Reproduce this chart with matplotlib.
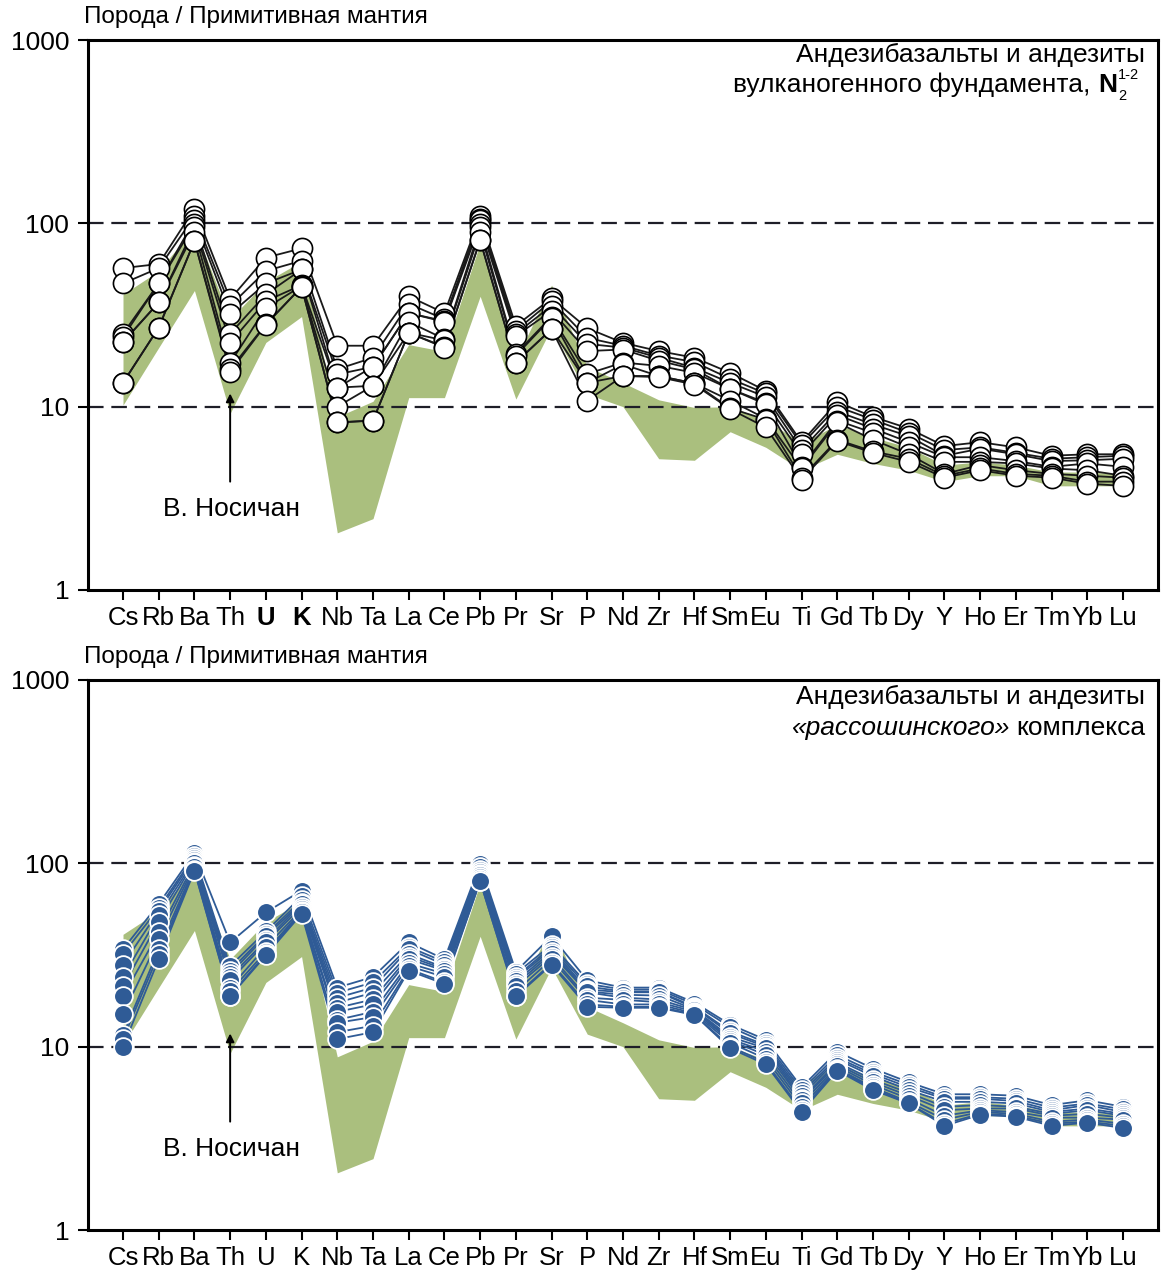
import numpy as np
import matplotlib.pyplot as plt
from matplotlib.ticker import NullLocator

plt.rcParams['font.family'] = ['Liberation Sans', 'DejaVu Sans']

# Element order of the spider diagram (normalised to primitive mantle)
elements = ['Cs', 'Rb', 'Ba', 'Th', 'U', 'K', 'Nb', 'Ta', 'La', 'Ce', 'Pb', 'Pr',
            'Sr', 'P', 'Nd', 'Zr', 'Hf', 'Sm', 'Eu', 'Ti', 'Gd', 'Tb', 'Dy', 'Y',
            'Ho', 'Er', 'Tm', 'Yb', 'Lu']

# Field of the Upper Nosichan volcanics (shaded band)
band_upper = [41, 55, 95, 30, 48, 62, 8.8, 10.7, 21.8, 20, 78, 18, 46, 16.5, 13.5,
              10.9, 9.9, 10, 8.5, 6.3, 8.0, 6.8, 6.0, 4.8, 5.0, 4.8, 4.4, 4.4, 4.3]
band_lower = [10.2, 21, 43, 9.2, 22.4, 31, 2.05, 2.45, 11.2, 11.2, 40, 11, 27, 11.7, 10,
              5.2, 5.1, 7.3, 6.0, 4.5, 5.5, 4.9, 4.5, 3.9, 4.2, 4.2, 3.7, 3.7, 3.7]

# Basaltic andesites and andesites of the volcanic basement, N2(1-2)
basement_1 = [57, 60, 120, 38.6, 65, 73, 21.5, 21.5, 40, 32.4, 109, 27.6, 39, 26.8, 22.3,
              20.1, 18.5, 15.3, 12.2, 6.4, 10.6, 8.8, 7.6, 6.1, 6.4, 6.0, 5.4, 5.5, 5.5]
basement_2 = [47, 57, 109, 35.5, 55, 62.5, 16, 18.5, 36.4, 30, 106, 26, 37.7, 23.7, 21.5,
              19, 17.5, 14.2, 11.8, 6.2, 10, 8.5, 7.2, 5.8, 6.0, 5.6, 5.2, 5.3, 5.4]
basement_3 = [25, 47, 104, 32, 47, 56, 15, 16.5, 32.4, 29.3, 104, 25, 35.5, 22, 21,
              18.5, 16.3, 13.5, 11.3, 5.8, 9.4, 8.0, 6.9, 5.4, 5.9, 5.5, 5.05, 5.1, 5.2]
basement_4 = [24, 47, 99, 25, 41, 56, 12.7, 16.5, 32.4, 29, 99, 24.3, 33.3, 20.1, 20.5,
              17.8, 16, 12.5, 10.5, 5.5, 9.0, 7.6, 6.4, 5.3, 5.3, 5.05, 4.7, 4.9, 4.7]
basement_5 = [22.5, 37, 95, 22.3, 37.7, 46, 12.7, 13, 29, 23.4, 95, 19.4, 31, 15.1, 17.4,
              16.7, 15.3, 12.5, 10.3, 4.7, 8.4, 7.2, 6.0, 5.0, 5.0, 4.9, 4.6, 4.5, 4.2]
basement_6 = [22.5, 37, 90, 17.3, 34.5, 45.5, 10, 13, 25.3, 23, 90, 19, 30.5, 13.5, 17,
              14.7, 13.4, 10.8, 8.6, 4.6, 8.2, 6.6, 5.5, 4.3, 4.8, 4.5, 4.3, 4.2, 4.1]
basement_7 = [13.5, 27, 80, 16, 28.2, 45, 8.2, 8.4, 25.3, 21.2, 81, 17.4, 26.5, 13.5, 14.7,
              14.7, 13.4, 9.8, 8.5, 4.1, 6.6, 5.7, 5.2, 4.2, 4.6, 4.3, 4.2, 3.9, 3.9]
basement_8 = [13.5, 27, 80, 15.5, 28, 45, 8.2, 8.4, 25.3, 21, 81, 17.4, 26.5, 10.8, 14.7,
              14.5, 13.2, 9.7, 7.7, 4.0, 6.5, 5.6, 5.0, 4.1, 4.5, 4.2, 4.1, 3.8, 3.7]

# Basaltic andesites and andesites of the "Rassoshinsky" complex
rass_1 = [34, 60, 114, 37, 54, 71, 21, 24, 37, 30, 99, 25.7, 40, 23, 21,
          21, 17.4, 13.2, 10.9, 6.0, 9.4, 7.6, 6.4, 5.5, 5.5, 5.4, 4.8, 5.1, 4.7]
rass_2 = [32, 57, 110, 27.5, 42.5, 66, 19.7, 22.4, 35, 29, 95, 25, 36, 22, 20.5,
          20.5, 17, 12.8, 10.5, 5.8, 9.0, 7.3, 6.2, 5.3, 5.3, 5.2, 4.65, 4.9, 4.55]
rass_3 = [28, 55, 107, 26, 41, 63, 18.5, 21, 34, 28, 92, 24, 35, 21.3, 20,
          20, 16.5, 12.1, 10.2, 5.6, 8.7, 7.1, 6.0, 5.2, 5.2, 5.05, 4.5, 4.8, 4.4]
rass_4 = [24, 52, 104, 25, 40, 61, 17.4, 19.7, 32, 27, 90, 23.5, 34, 20.5, 19.8,
          19.8, 16.3, 11.8, 10, 5.4, 8.5, 6.9, 5.8, 5.0, 5.0, 4.9, 4.4, 4.6, 4.3]
rass_5 = [21.3, 48, 102, 24, 38, 60, 16.3, 18.1, 31, 26.5, 88, 22.7, 33, 20, 19.2,
          19, 16, 11.3, 9.8, 5.2, 8.2, 6.6, 5.6, 4.7, 4.8, 4.7, 4.3, 4.5, 4.2]
rass_6 = [18.8, 42, 100, 23, 37, 58, 15.5, 17, 30, 26, 86, 22, 32, 19.8, 18.5,
          18.1, 15.8, 11, 9.4, 5.1, 8.0, 6.4, 5.4, 4.5, 4.6, 4.6, 4.2, 4.3, 4.1]
rass_7 = [15, 38.5, 97, 21, 35, 56, 14, 15.5, 28.5, 25, 84, 21.3, 31, 18.5, 18,
          17.5, 15.5, 10.8, 9, 4.9, 7.8, 6.2, 5.2, 4.2, 4.5, 4.4, 4.1, 4.1, 4.0]
rass_8 = [11.6, 34, 95, 20, 33, 55, 13.5, 14.5, 27.5, 24, 82, 20, 30, 18, 17,
          17, 15.2, 10.5, 8.6, 4.7, 7.6, 6.0, 5.0, 4.0, 4.4, 4.3, 3.9, 4.0, 3.8]
rass_9 = [11, 32, 92, 19, 32, 54, 12, 13, 26.5, 22.5, 80, 19, 28.5, 17, 16.5,
          16.5, 15, 10, 8.2, 4.5, 7.5, 5.9, 4.9, 3.8, 4.3, 4.2, 3.8, 3.9, 3.7]
rass_10 = [10, 30, 91, 18.8, 31.5, 53, 11, 12, 26, 22, 80, 18.8, 28, 16.5, 16.3,
           16.3, 14.9, 9.8, 8.0, 4.4, 7.4, 5.8, 4.9, 3.7, 4.25, 4.15, 3.7, 3.85, 3.6]

basement = [basement_1, basement_2, basement_3, basement_4,
            basement_5, basement_6, basement_7, basement_8]
rassoshinsky = [rass_1, rass_2, rass_3, rass_4, rass_5,
                rass_6, rass_7, rass_8, rass_9, rass_10]

GREEN = '#aabf7e'
BLUE = '#2f5b96'
x = np.arange(len(elements))

fig = plt.figure(figsize=(11.62, 12.72), dpi=100)
W, H = 1162, 1272
ax_top = fig.add_axes([88 / W, 1 - 590 / H, 1070 / W, 550 / H])
ax_bot = fig.add_axes([88 / W, 1 - 1230 / H, 1070 / W, 550 / H])


def setup_panel(ax, bold_labels):
    ax.set_yscale('log')
    ax.set_ylim(1, 1000)
    ax.set_xlim(-0.98, 28.98)
    ax.set_yticks([1, 10, 100, 1000])
    ax.set_yticklabels(['1', '10', '100', '1000'])
    ax.yaxis.set_minor_locator(NullLocator())
    ax.set_xticks(x)
    ax.set_xticklabels(elements)
    for lbl in ax.get_xticklabels():
        if lbl.get_text() in bold_labels:
            lbl.set_fontweight('bold')
    ax.tick_params(axis='x', direction='out', length=7, width=1.5,
                   labelsize=18.5, pad=4.5)
    ax.tick_params(axis='y', direction='out', length=7.5, width=1.5,
                   labelsize=19, pad=6)
    for s in ax.spines.values():
        s.set_linewidth(2.2)
    # field of the reference volcanics
    ax.fill_between(x, band_lower, band_upper, color=GREEN, lw=0, zorder=1)
    for level in (10, 100):
        ax.axhline(level, color='#1e1e28', lw=1.6, ls=(0, (7, 3.5)), zorder=2)
    # label of the reference field
    ax.annotate('', xy=(3, 11.8), xytext=(3, 3.9),
                arrowprops=dict(arrowstyle='-|>', color='black', lw=1.4,
                                mutation_scale=12, shrinkA=0, shrinkB=0),
                zorder=3)
    ax.text(3.05, 2.78, 'В. Носичан', ha='center', va='center', fontsize=19)


def header(y_fig):
    fig.text(84 / W, y_fig, 'Порода / Примитивная мантия', ha='left',
             va='center', fontsize=17.5)


# ---- upper panel: volcanic basement ----
setup_panel(ax_top, {'U', 'K'})
for s in basement:
    ax_top.plot(x, s, color='#1a1a1a', lw=1.3, zorder=4)
for s in basement:
    ax_top.plot(x, s, ls='none', marker='o', ms=14.5, mfc='white',
                mec='black', mew=1.2, zorder=5)
header(1 - 17 / H)
ax_top.text(0.988, 0.9727, 'Андезибазальты и андезиты', transform=ax_top.transAxes,
            ha='right', va='center', fontsize=19)
n_txt = ax_top.text(0.9615, 0.918, 'N', transform=ax_top.transAxes, ha='right',
                    va='center', fontsize=19, fontweight='bold')
ax_top.text(0.9625, 0.936, '1-2', transform=ax_top.transAxes, ha='left',
            va='center', fontsize=10.5)
ax_top.text(0.9625, 0.899, '2', transform=ax_top.transAxes, ha='left',
            va='center', fontsize=10.5)
ax_top.annotate('вулканогенного фундамента,', xy=(0, 0), xycoords=n_txt,
                xytext=(-5, 0), textcoords='offset points', ha='right',
                va='bottom', fontsize=19)

# ---- lower panel: Rassoshinsky complex ----
setup_panel(ax_bot, set())
for s in rassoshinsky:
    ax_bot.plot(x, s, color=BLUE, lw=1.3, zorder=4)
for s in rassoshinsky:
    ax_bot.plot(x, s, ls='none', marker='o', ms=13.5, mfc=BLUE,
                mec='white', mew=1.3, zorder=5)
header(1 - 657 / H)
ax_bot.text(0.988, 0.969, 'Андезибазальты и андезиты', transform=ax_bot.transAxes,
            ha='right', va='center', fontsize=19)
k_txt = ax_bot.text(0.988, 0.9127, 'комплекса', transform=ax_bot.transAxes,
                    ha='right', va='center', fontsize=19)
ax_bot.annotate('«рассошинского»', xy=(0, 0), xycoords=k_txt,
                xytext=(-5, 0), textcoords='offset points', ha='right',
                va='bottom', fontsize=19, fontstyle='italic')

fig.savefig('out.png', dpi=100, facecolor='white')
